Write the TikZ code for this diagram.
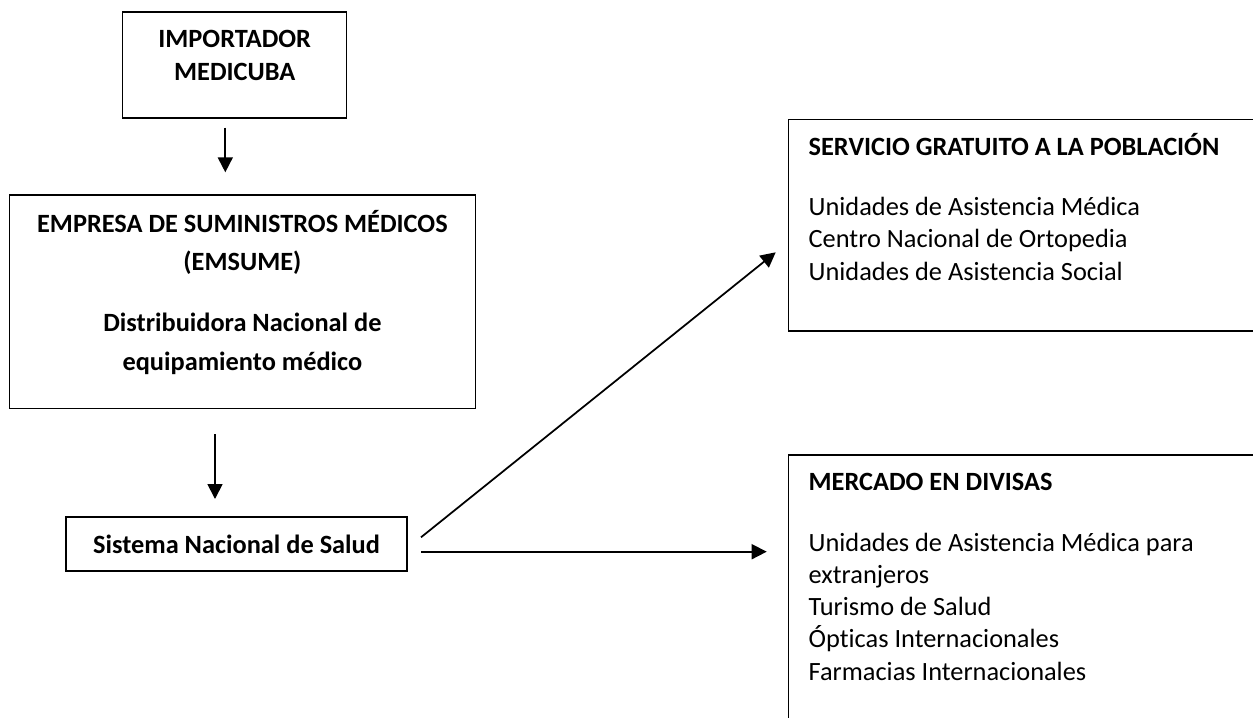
\documentclass[tikz,border=0pt]{standalone}
\usepackage{fontspec}
\setmainfont{Carlito}[Ligatures=NoCommon]
\usetikzlibrary{arrows.meta}

\tikzset{
	box/.style={draw=black, line width=0.85pt, rectangle, inner sep=0pt},
	txt/.style={inner sep=0pt, font=\fontsize{15}{18.3}\selectfont},
	arr/.style={line width=1pt, -{Triangle[length=0.3cm, width=0.3cm]}}
}

\begin{document}
\begin{tikzpicture}[x=0.02cm, y=-0.02cm]
	\useasboundingbox (0,0) rectangle (1253,717);
	\clip (0,0) rectangle (1253,717);
	% cajas
	\node[box, minimum width=4.48cm, minimum height=2.13cm] (imp) at (234.7,65) {};
	\node[box, minimum width=9.32cm, minimum height=4.27cm] (emp) at (242.4,301.75) {};
	\node[box, minimum width=6.83cm, minimum height=1.08cm, txt, font=\fontsize{15}{18.3}\selectfont\bfseries] (sns) at (236.5,544) {Sistema Nacional de Salud};
	\node[box, anchor=north west, minimum width=9.65cm, minimum height=4.23cm] (srv) at (787.5,118.7) {};
	\node[box, anchor=north west, minimum width=9.65cm, minimum height=5.7cm] (mer) at (787.5,454.3) {};
	% textos (base = ultima linea)
	\node[txt, anchor=base, align=center, font=\fontsize{15}{19}\selectfont\bfseries] (imptxt) at (234.7,80.7) {IMPORTADOR\\MEDICUBA};
	\node[txt, anchor=base, align=center, font=\fontsize{15}{21.8}\selectfont\bfseries] (emptxt) at (242.4,370)
		{EMPRESA DE SUMINISTROS MÉDICOS\\(EMSUME)\\[0.45cm]Distribuidora Nacional de\\equipamiento médico};
	\node[txt, anchor=base west, align=left] (srvtxt) at (808.3,280)
		{\textbf{SERVICIO GRATUITO A LA POBLACIÓN}\\[0.57cm]Unidades de Asistencia Médica\\Centro Nacional de Ortopedia\\Unidades de Asistencia Social};
	\node[txt, anchor=base west, align=left] (mertxt) at (808.3,680)
		{\textbf{MERCADO EN DIVISAS}\\[0.57cm]Unidades de Asistencia Médica para\\extranjeros\\Turismo de Salud\\Ópticas Internacionales\\Farmacias Internacionales};
	% flechas
	\coordinate (a1) at (225.3,127.7);
	\coordinate (b1) at (225.3,172.3);
	\coordinate (a2) at (215,434.3);
	\coordinate (b2) at (215,499);
	\coordinate (s1) at (421,537.3);
	\coordinate (s2) at (421,551.7);
	\coordinate (c1) at (775.7,252.3);
	\coordinate (c2) at (766.7,551.7);
	\draw[arr] (a1) -- (b1);
	\draw[arr] (a2) -- (b2);
	\draw[arr] (s1) -- (c1);
	\draw[arr] (s2) -- (c2);
\end{tikzpicture}
\end{document}
